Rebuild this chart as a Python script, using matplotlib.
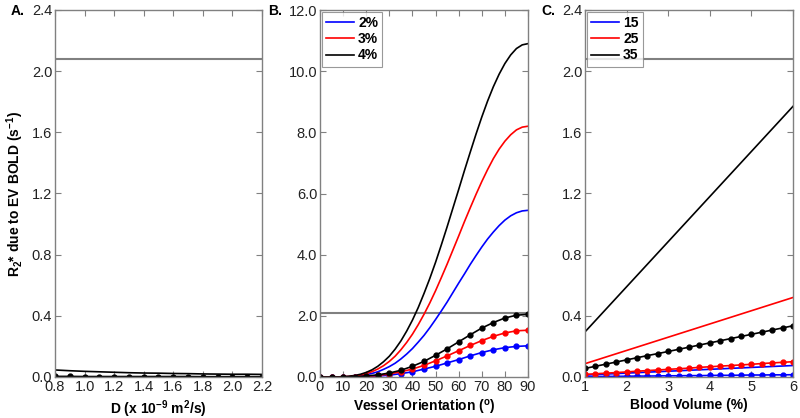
import numpy as np
import matplotlib
matplotlib.use("Agg")
from matplotlib import pyplot as plt

plt.rcParams['font.family'] = ['Liberation Sans', 'DejaVu Sans']
plt.rcParams['mathtext.fontset'] = 'custom'
plt.rcParams['mathtext.rm'] = 'Liberation Sans'
plt.rcParams['mathtext.bf'] = 'Liberation Sans:bold'
plt.rcParams['mathtext.it'] = 'Liberation Sans:italic'
plt.rcParams['mathtext.default'] = 'bf'

# reference level (gray line)
ref_level = 2.08

# Panel A : diffusion coefficient
D = [0.8, 0.9, 1.0, 1.1, 1.2, 1.3, 1.4, 1.5, 1.6, 1.7, 1.8, 1.9, 2.0, 2.1, 2.2]
a_solid = [0.046, 0.041, 0.037, 0.034, 0.031, 0.028, 0.026, 0.025, 0.023,
           0.022, 0.020, 0.019, 0.018, 0.018, 0.017]
a_dots = [0.004, 0.004, 0.003, 0.003, 0.003, 0.003, 0.003, 0.003, 0.003,
          0.003, 0.002, 0.002, 0.002, 0.002, 0.002]

# Panel B : vessel orientation
angle_fine = [0, 2.5, 5, 7.5, 10, 12.5, 15, 17.5, 20, 22.5, 25, 27.5, 30,
              32.5, 35, 37.5, 40, 42.5, 45, 47.5, 50, 52.5, 55, 57.5, 60,
              62.5, 65, 67.5, 70, 72.5, 75, 77.5, 80, 82.5, 85, 87.5, 90]
b_solid_2 = [0, 0, 0, 0.002, 0.005, 0.012, 0.024, 0.045, 0.075, 0.117, 0.17,
             0.25, 0.34, 0.45, 0.59, 0.75, 0.93, 1.14, 1.36, 1.61, 1.88, 2.16,
             2.45, 2.76, 3.07, 3.37, 3.68, 3.97, 4.25, 4.51, 4.74, 4.95, 5.13,
             5.27, 5.37, 5.43, 5.45]
b_solid_3 = [0, 0, 0, 0.002, 0.01, 0.018, 0.04, 0.067, 0.11, 0.176, 0.26,
             0.37, 0.51, 0.68, 0.89, 1.13, 1.40, 1.71, 2.05, 2.42, 2.82, 3.25,
             3.69, 4.15, 4.61, 5.08, 5.53, 5.97, 6.39, 6.78, 7.14, 7.45, 7.71,
             7.92, 8.08, 8.17, 8.2]
b_solid_4 = [0, 0, 0, 0.003, 0.01, 0.024, 0.05, 0.089, 0.15, 0.234, 0.35,
             0.50, 0.68, 0.91, 1.18, 1.50, 1.86, 2.27, 2.73, 3.22, 3.75, 4.32,
             4.91, 5.52, 6.13, 6.75, 7.35, 7.94, 8.50, 9.02, 9.49, 9.90, 10.25,
             10.53, 10.74, 10.86, 10.9]
angle = [0, 5, 10, 15, 20, 25, 30, 35, 40, 45, 50, 55, 60, 65, 70, 75, 80, 85, 90]
b_dots_2 = [0, 0, 0, 0, 0.01, 0.03, 0.06, 0.11, 0.17, 0.26, 0.35, 0.46, 0.57,
            0.69, 0.80, 0.89, 0.96, 1.00, 1.02]
b_dots_3 = [0, 0, 0, 0.01, 0.02, 0.05, 0.10, 0.17, 0.26, 0.38, 0.53, 0.69,
            0.86, 1.03, 1.19, 1.33, 1.44, 1.51, 1.53]
b_dots_4 = [0, 0, 0, 0.01, 0.03, 0.07, 0.13, 0.22, 0.35, 0.51, 0.71, 0.92,
            1.15, 1.38, 1.60, 1.78, 1.93, 2.02, 2.05]
b_labels = ['2%', '3%', '4%']

# Panel C : blood volume
bv = [1, 1.25, 1.5, 1.75, 2, 2.25, 2.5, 2.75, 3, 3.25, 3.5, 3.75, 4, 4.25,
      4.5, 4.75, 5, 5.25, 5.5, 5.75, 6]
bv_ends = [1, 6]
c_solid_15 = [0.013, 0.075]
c_solid_25 = [0.087, 0.52]
c_solid_35 = [0.295, 1.77]
c_dots_15 = [0.003, 0.003, 0.004, 0.004, 0.005, 0.006, 0.006, 0.007, 0.008,
             0.008, 0.009, 0.009, 0.010, 0.011, 0.011, 0.012, 0.013, 0.013,
             0.014, 0.014, 0.015]
c_dots_25 = [0.017, 0.021, 0.025, 0.029, 0.033, 0.038, 0.042, 0.046, 0.050,
             0.054, 0.058, 0.063, 0.067, 0.071, 0.075, 0.079, 0.083, 0.088,
             0.092, 0.096, 0.100]
c_dots_35 = [0.056, 0.070, 0.084, 0.098, 0.112, 0.126, 0.140, 0.153, 0.167,
             0.181, 0.195, 0.209, 0.223, 0.237, 0.251, 0.265, 0.279, 0.293,
             0.307, 0.321, 0.335]
c_labels = ['15', '25', '35']

cols = ['#0000ff', '#ff0000', '#000000']
lw = 1.2
ms = 3.5
tick_fs = 10.5
lab_fs = 10

fig = plt.figure(figsize=(8, 4.18), dpi=100)
W, H = 800.0, 418.0
bot = 1 - 377 / H
hgt = (377 - 10) / H
axA = fig.add_axes([55 / W, bot, 207 / W, hgt])
axB = fig.add_axes([320 / W, bot, 208 / W, hgt])
axC = fig.add_axes([585 / W, bot, 208 / W, hgt])


def style(ax):
    for s in ax.spines.values():
        s.set_color('#808080')
        s.set_linewidth(1.0)
    ax.tick_params(direction='in', top=True, right=True, color='#808080',
                   length=4, width=0.8, labelsize=tick_fs, labelcolor='#222222', pad=2)


def add_legend(ax, handles, labels):
    leg = ax.legend(handles, labels, loc='upper left',
                    prop={'weight': 'bold', 'size': 10},
                    handlelength=2.0, handletextpad=0.3, borderpad=0.3,
                    labelspacing=0.15, borderaxespad=0.15, fancybox=False)
    leg.get_frame().set_edgecolor('#808080')
    leg.get_frame().set_linewidth(0.8)


# A
axA.axhline(ref_level, color='#808080', lw=1.5)
axA.plot(D, a_solid, color='k', lw=lw)
axA.plot(D, a_dots, color='k', lw=lw, marker='o', ms=ms)
axA.set_xlim(0.8, 2.2)
axA.set_ylim(0, 2.4)
axA.set_xticks(np.arange(0.8, 2.21, 0.2))
axA.set_xticklabels(['%.1f' % v for v in np.arange(0.8, 2.21, 0.2)])
axA.set_yticks(np.arange(0, 2.41, 0.4))
axA.set_yticklabels(['%.1f' % v for v in np.arange(0, 2.41, 0.4)])
axA.set_xlabel(r'D (x 10$^{-9}$ m$^{2}$/s)', fontweight='bold', fontsize=lab_fs, labelpad=3)
axA.set_ylabel(r'R$_{2}$* due to EV BOLD (s$^{-1}$)', fontweight='bold', fontsize=lab_fs, labelpad=4)
style(axA)

# B
axB.axhline(ref_level, color='#808080', lw=1.5)
hs = []
for ys, c in zip([b_solid_2, b_solid_3, b_solid_4], cols):
    h, = axB.plot(angle_fine, ys, color=c, lw=lw)
    hs.append(h)
for ys, c in zip([b_dots_2, b_dots_3, b_dots_4], cols):
    axB.plot(angle, ys, color=c, lw=lw, marker='o', ms=ms)
axB.set_xlim(0, 90)
axB.set_ylim(0, 12)
axB.set_xticks(range(0, 91, 10))
axB.set_yticks(np.arange(0, 12.1, 2))
axB.set_yticklabels(['%.1f' % v for v in np.arange(0, 12.1, 2)])
axB.set_xlabel(r'Vessel Orientation ($^{o}$)', fontweight='bold', fontsize=lab_fs, labelpad=3)
add_legend(axB, hs, b_labels)
style(axB)

# C
axC.axhline(ref_level, color='#808080', lw=1.5)
hs = []
for ys, c in zip([c_solid_15, c_solid_25, c_solid_35], cols):
    h, = axC.plot(bv_ends, ys, color=c, lw=lw)
    hs.append(h)
for ys, c in zip([c_dots_15, c_dots_25, c_dots_35], cols):
    axC.plot(bv, ys, color=c, lw=lw, marker='o', ms=ms)
axC.set_xlim(1, 6)
axC.set_ylim(0, 2.4)
axC.set_xticks(range(1, 7))
axC.set_yticks(np.arange(0, 2.41, 0.4))
axC.set_yticklabels(['%.1f' % v for v in np.arange(0, 2.41, 0.4)])
axC.set_xlabel('Blood Volume (%)', fontweight='bold', fontsize=lab_fs, labelpad=3)
add_legend(axC, hs, c_labels)
style(axC)

# panel letters
for x, t in [(11, 'A.'), (268, 'B.'), (541, 'C.')]:
    fig.text(x / W, 1 - 11 / H, t, fontweight='bold', fontsize=10, va='center')

fig.savefig('out.png', dpi=100)
